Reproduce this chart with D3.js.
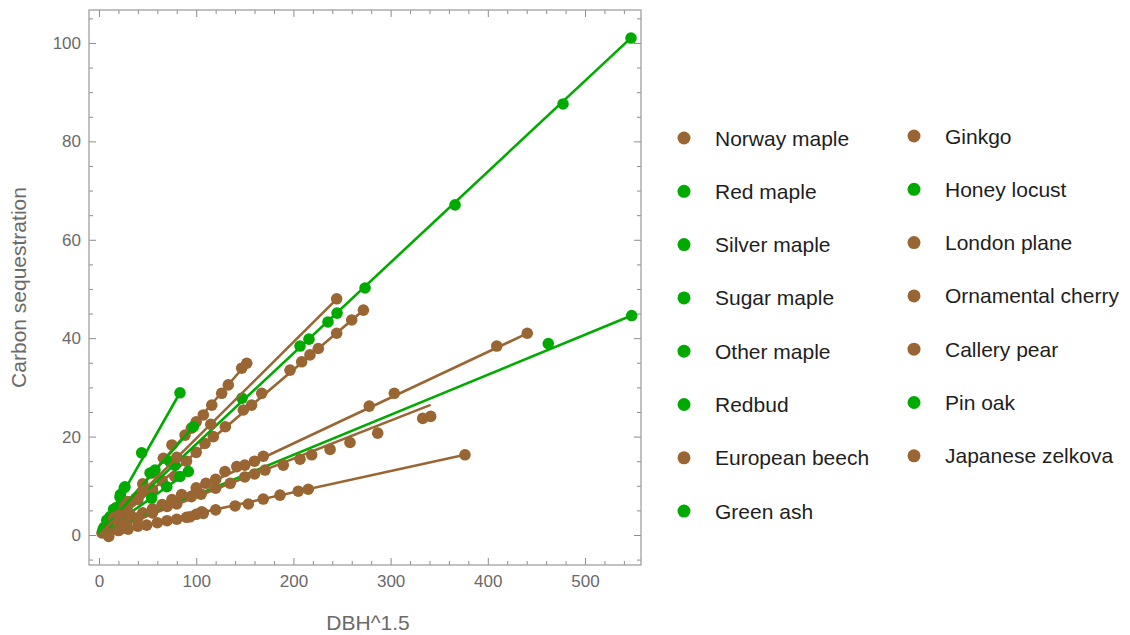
<!doctype html>
<html>
<head>
<meta charset="UTF-8" />
<script src="https://d3js.org/d3.v7.min.js"></script>
<style>
  body { margin: 0; background: #fff; }
  text { font-family: "Liberation Sans", Arial, sans-serif; }
</style>
</head>
<body>
<svg id="chart" width="1130" height="635"></svg>
<script>
// species in legend (and plot) order
const species = ["Norway maple", "Red maple", "Silver maple", "Sugar maple", "Other maple",
  "Redbud", "European beech", "Green ash", "Ginkgo", "Honey locust", "London plane",
  "Ornamental cherry", "Callery pear", "Pin oak", "Japanese zelkova"];
const origin = ["introduced", "native", "native", "native", "native",
  "native", "introduced", "native", "introduced", "native", "introduced",
  "introduced", "introduced", "native", "introduced"];

// [DBH^1.5, carbon sequestration]
const norwayMaple = [[20, 3.3], [40, 7.2], [55, 9.2], [65, 11], [78, 11.9], [90, 15], [100, 16.8],
  [109, 18.6], [117.6, 20], [130, 22], [148.5, 25.4], [157, 26.4], [167.4, 28.8], [196.5, 33.5],
  [208.5, 35.2], [217, 36.6], [225.6, 37.9], [244.5, 41], [260, 43.7], [272, 45.7]];
const redMaple = [[30, 4.6], [54.2, 7.5], [69.7, 9.8], [83.3, 11.9], [91.9, 12.9]];
const silverMaple = [[147.1, 27.8], [206.8, 38.4], [216, 39.8], [235.6, 43.3], [244.9, 45.1],
  [273.7, 50.2], [366.3, 67.1], [477.4, 87.6], [547.3, 101]];
const sugarMaple = [[8, 3], [15, 5.2], [22, 8.2], [26, 9.6]];
const otherMaple = [[5, 1.5], [12, 3.6], [18, 5.6]];
const redbud = [[11.3, 3.7], [21.6, 7.7], [43.9, 16.7], [83.3, 28.9]];
const europeanBeech = [[3, 0.4], [5, 0.6], [8, 1.5], [10, -0.3], [14, 1.8], [17, 2.5], [20, 3], [22, 1.2],
  [26, 5.8], [29, 3], [32, 4.2], [38, 7.5]];
const greenAsh = [[4, 1], [10, 2.6], [16, 4.4]];
const ginkgo = [[15, 3.5], [30, 6.8], [45, 10.4], [55, 12.6], [66.2, 15.6], [75, 18.3], [88.5, 20.3],
  [95, 21.7], [100, 23], [107.3, 24.4], [116, 26.4], [126.2, 28.8], [133, 30.5], [146.8, 33.9], [152, 34.9]];
const honeyLocust = [[26.7, 9.8], [52.5, 12.6], [57.6, 13.2], [73, 14.9], [78.2, 14.2], [97, 22]];
const londonPlane = [[20, 2], [30, 3], [45, 4.5], [55, 5.3], [65, 6.2], [75, 7.2], [85, 8.2], [100, 9.6],
  [110, 10.5], [120, 11.3], [129.6, 12.9], [141.7, 13.9], [150, 14.2], [160, 15], [169, 16],
  [278, 26.2], [303.8, 28.8], [409.2, 38.4], [440.6, 41]];
const ornamentalCherry = [[10, 0.3], [20, 0.9], [30, 1.2], [40, 1.8], [49, 2], [60, 2.5], [70, 2.9],
  [80, 3.2], [90, 3.6], [93.6, 3.7], [100, 4.2], [105.7, 4.7], [107.3, 4.4], [120, 5.1], [140, 5.9],
  [153.6, 6.3], [169, 7.3], [186.2, 8.1], [205, 8.9], [215.3, 9.3], [376.5, 16.3]];
const calleryPear = [[20, 4], [45, 9], [80, 15.8], [115, 22.5], [244.5, 48]];
const pinOak = [[25, 2.2], [462.2, 38.9], [548, 44.6]];
const japaneseZelkova = [[25, 2.2], [40, 3.5], [55, 4.5], [70, 5.8], [80, 6.3], [95, 7.8], [105, 8.3],
  [120, 9.5], [135, 10.5], [150, 11.8], [160, 12.4], [170.8, 13.2], [189.6, 14.2], [206.8, 15.4],
  [218.8, 16.3], [237.7, 17.4], [258.2, 18.8], [286.7, 20.7], [333, 23.7], [341.2, 24.1]];

// fitted slope of each species' line through the origin
const fitSlope = [0.168, 0.14, 0.1846, 0.36, 0.31, 0.347, 0.17, 0.27, 0.2296, 0.227,
  0.093, 0.0433, 0.196, 0.0814, 0.0775];

const seriesData = [norwayMaple, redMaple, silverMaple, sugarMaple, otherMaple, redbud,
  europeanBeech, greenAsh, ginkgo, honeyLocust, londonPlane, ornamentalCherry,
  calleryPear, pinOak, japaneseZelkova];

const xMajor = [0, 100, 200, 300, 400, 500];
const yMajor = [0, 20, 40, 60, 80, 100];

const svg = d3.select("#chart");
const frame = { left: 89, right: 641, top: 10, bottom: 565 };

const x = d3.scaleLinear().domain([-10.3, 557.6]).range([frame.left, frame.right]);
const y = d3.scaleLinear().domain([-6.1, 106.7]).range([frame.bottom, frame.top]);
const color = d3.scaleOrdinal().domain(["introduced", "native"]).range(["#996633", "#00aa00"]);

const tickGray = "#8c8c8c";
const labelGray = "#6a6a6a";

const xMinor = d3.range(20, 558, 20).filter(d => d % 100 !== 0);
const yMinor = d3.range(-5, 107, 5).filter(d => d % 20 !== 0);

function styleAxis(g) {
  g.select(".domain").remove();
  g.selectAll(".tick line").attr("stroke", tickGray).attr("stroke-width", 1);
  g.selectAll(".tick text").attr("fill", labelGray).attr("font-size", 17)
    .attr("font-family", "Liberation Sans, Arial, sans-serif");
}

// bottom
svg.append("g").attr("transform", `translate(0,${frame.bottom})`)
  .call(d3.axisBottom(x).tickValues(xMajor).tickSize(-7).tickPadding(10).tickFormat(d3.format("d")))
  .call(styleAxis);
svg.append("g").attr("transform", `translate(0,${frame.bottom})`)
  .call(d3.axisBottom(x).tickValues(xMinor).tickSize(-4).tickFormat(""))
  .call(styleAxis);
// top
svg.append("g").attr("transform", `translate(0,${frame.top})`)
  .call(d3.axisTop(x).tickValues(xMajor).tickSize(-7).tickFormat(""))
  .call(styleAxis);
svg.append("g").attr("transform", `translate(0,${frame.top})`)
  .call(d3.axisTop(x).tickValues(xMinor).tickSize(-4).tickFormat(""))
  .call(styleAxis);
// left
svg.append("g").attr("transform", `translate(${frame.left},0)`)
  .call(d3.axisLeft(y).tickValues(yMajor).tickSize(-7).tickPadding(8).tickFormat(d3.format("d")))
  .call(styleAxis);
svg.append("g").attr("transform", `translate(${frame.left},0)`)
  .call(d3.axisLeft(y).tickValues(yMinor).tickSize(-4).tickFormat(""))
  .call(styleAxis);
// right
svg.append("g").attr("transform", `translate(${frame.right},0)`)
  .call(d3.axisRight(y).tickValues(yMajor).tickSize(-7).tickFormat(""))
  .call(styleAxis);
svg.append("g").attr("transform", `translate(${frame.right},0)`)
  .call(d3.axisRight(y).tickValues(yMinor).tickSize(-4).tickFormat(""))
  .call(styleAxis);

// frame
svg.append("rect")
  .attr("x", frame.left).attr("y", frame.top)
  .attr("width", frame.right - frame.left).attr("height", frame.bottom - frame.top)
  .attr("fill", "none").attr("stroke", "#a0a0a0").attr("stroke-width", 1.3);

// axis titles
svg.append("text")
  .attr("x", 368).attr("y", 630)
  .attr("text-anchor", "middle").attr("font-size", 21).attr("fill", labelGray)
  .text("DBH^1.5");
svg.append("text")
  .attr("transform", `translate(26,${(frame.top + frame.bottom) / 2}) rotate(-90)`)
  .attr("text-anchor", "middle").attr("font-size", 21).attr("fill", labelGray)
  .text("Carbon sequestration");

// series: fitted line + points
const plot = svg.append("g");
const line = d3.line().x(d => x(d[0])).y(d => y(d[1]));

species.forEach(function (name, i) {
  const pts = seriesData[i];
  const xMax = d3.max(pts, d => d[0]);
  const c = color(origin[i]);
  plot.append("path")
    .datum([[0, 0], [xMax, fitSlope[i] * xMax]])
    .attr("d", line)
    .attr("fill", "none").attr("stroke", c).attr("stroke-width", 2.6);
  plot.selectAll(null)
    .data(pts)
    .enter().append("circle")
    .attr("cx", d => x(d[0])).attr("cy", d => y(d[1]))
    .attr("r", 5.8).attr("fill", c);
});

// legend
const legend = svg.append("g");
const rowsPerCol = 8;
const legendItems = legend.selectAll("g.item")
  .data(species)
  .enter().append("g")
  .attr("class", "item")
  .attr("transform", function (d, i) {
    const col = Math.floor(i / rowsPerCol);
    const row = i % rowsPerCol;
    return `translate(${col === 0 ? 684 : 914},${(col === 0 ? 138 : 136) + row * 53.3})`;
  });
legendItems.append("circle")
  .attr("r", 6.5)
  .attr("fill", (d, i) => color(origin[i]));
legendItems.append("text")
  .attr("x", 31).attr("dy", "0.36em")
  .attr("font-size", 21).attr("fill", "#1e1e1e")
  .text(d => d);
</script>
</body>
</html>
